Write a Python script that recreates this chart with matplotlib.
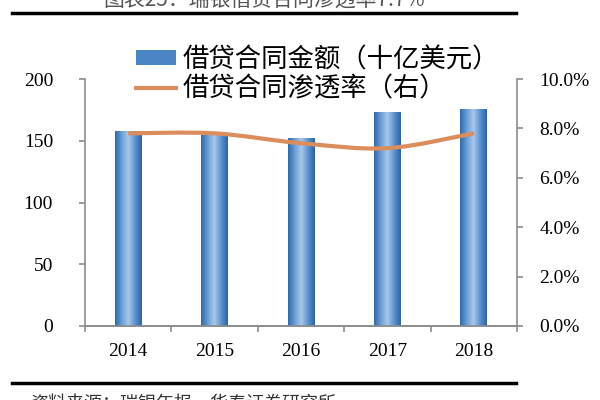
import numpy as np
import matplotlib.pyplot as plt
from matplotlib.path import Path
from matplotlib.patches import PathPatch, Patch
from matplotlib.lines import Line2D
from matplotlib.colors import LinearSegmentedColormap

plt.rcParams['font.family'] = ['Liberation Serif', 'Noto Sans CJK SC']

# ---- données ----
years = ['2014', '2015', '2016', '2017', '2018']
amount = [158, 155, 152, 173, 176]      # 借贷合同金额（十亿美元）
rate = [7.8, 7.8, 7.4, 7.2, 7.8]        # 借贷合同渗透率 (%)
left_ticks = [0, 50, 100, 150, 200]
right_ticks = [0, 2, 4, 6, 8, 10]

bar_label = '借贷合同金额（十亿美元）'
line_label = '借贷合同渗透率（右）'
title = '图表25：瑞银借贷合同渗透率7.7%'
source = '资料来源：瑞银年报，华泰证券研究所'

grey = '#8c8c8c'
orange = '#dc8d5c'

fig = plt.figure(figsize=(6, 4), dpi=100)
ax = fig.add_axes([0.1417, 0.185, 0.72, 0.6175])
ax2 = ax.twinx()

x = np.arange(len(years))
bars = ax.bar(x, amount, width=0.31, color='#4a86c5', zorder=2)

# dégradé horizontal dans chaque barre
cmap = LinearSegmentedColormap.from_list('bar', ['#2f6aac', '#6a9fd6', '#a9c8ea', '#5c93cf', '#2c64a6'])
grad = np.linspace(0, 1, 64).reshape(1, -1)
for b in bars:
    im = ax.imshow(grad, cmap=cmap, aspect='auto', zorder=3,
                   extent=[b.get_x(), b.get_x() + b.get_width(), 0, b.get_height()])
    im.set_clip_path(b)

ax.set_xlim(-0.5, len(years) - 0.5)
ax.set_ylim(0, 200)
ax.set_yticks(left_ticks)
ax.set_xticks(np.arange(-0.5, len(years)), labels=[])
ax.set_xticks(x, labels=years, minor=True)
ax.tick_params(axis='x', which='major', length=4, color=grey, width=1.2)
ax.tick_params(axis='x', which='minor', length=0, labelsize=14, pad=12)
ax.tick_params(axis='y', length=4, color=grey, width=1.2, labelsize=14, pad=19)

# courbe lissée (façon Excel) pour le taux
pts = np.column_stack([x, rate])
verts = [pts[0]]
codes = [Path.MOVETO]
for i in range(len(pts) - 1):
    p0 = pts[max(i - 1, 0)]
    p1 = pts[i]
    p2 = pts[i + 1]
    p3 = pts[min(i + 2, len(pts) - 1)]
    verts += [p1 + (p2 - p0) / 6, p2 - (p3 - p1) / 6, p2]
    codes += [Path.CURVE4] * 3
ax2.add_patch(PathPatch(Path(verts, codes), fill=False, edgecolor=orange, lw=3, zorder=4))

ax2.set_ylim(0, 10)
ax2.set_yticks(right_ticks, labels=['%.1f%%' % t for t in right_ticks])
ax2.tick_params(axis='y', length=4, color=grey, width=1.2, labelsize=14, pad=12)

for a in (ax, ax2):
    a.spines['top'].set_visible(False)
    for s in ('left', 'right', 'bottom'):
        a.spines[s].set_color(grey)
        a.spines[s].set_linewidth(1.2)
ax.spines['right'].set_visible(False)
ax2.spines['left'].set_visible(False)

handles = [Patch(facecolor='#4a86c5'), Line2D([0], [0], color=orange, lw=3)]
fig.legend(handles, [bar_label, line_label], loc='upper left', bbox_to_anchor=(0.205, 0.918),
           frameon=False, prop={'family': 'Noto Sans CJK SC', 'size': 19},
           handlelength=1.5, handleheight=0.5, handletextpad=0.25, labelspacing=0.1, borderpad=0)

# titre et source (coupés comme sur la capture)
fig.text(0.44, 1.0, title, ha='center', va='center', fontsize=15, color='#555555',
         family='Noto Sans CJK SC')
fig.add_artist(Line2D([0.02, 0.86], [0.967, 0.967], transform=fig.transFigure, color='black', lw=2.5))
fig.add_artist(Line2D([0.02, 0.86], [0.0425, 0.0425], transform=fig.transFigure, color='black', lw=2.5))
fig.text(0.05, -0.01, source, ha='left', va='center', fontsize=13, color='#333333',
         family='Noto Sans CJK SC')

fig.savefig('out.png', dpi=100)
